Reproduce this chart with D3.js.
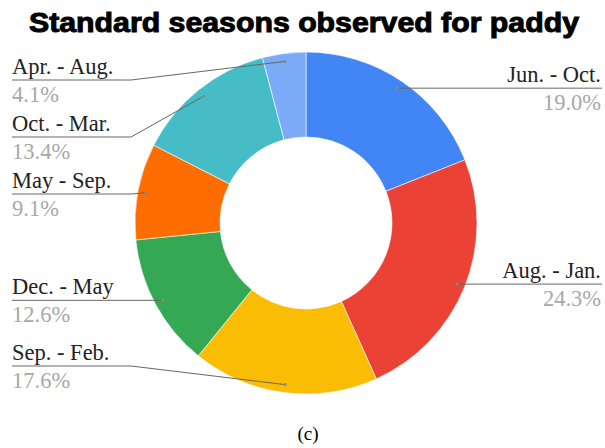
<!DOCTYPE html>
<html><head><meta charset="utf-8">
<script src="https://cdn.jsdelivr.net/npm/d3@7"></script>
<style>html,body{margin:0;padding:0;background:#fff;}svg{display:block;}</style>
</head><body>
<svg id="c" width="605" height="448"></svg>
<script>
const categories = ["Jun. - Oct.", "Aug. - Jan.", "Sep. - Feb.", "Dec. - May", "May - Sep.", "Oct. - Mar.", "Apr. - Aug."];
const values = [19.0, 24.3, 17.6, 12.6, 9.1, 13.4, 4.1];
const colors = ["#4285F4", "#EA4335", "#FBBC04", "#34A853", "#FF6D01", "#46BDC6", "#7BAAF7"];
const title = "Standard seasons observed for paddy";
const caption = "(c)";

const svg = d3.select("#c");
const cx = 306, cy = 223, R = 171, r0 = 86;

svg.append("text").attr("x", 304).attr("y", 32).attr("text-anchor", "middle")
  .attr("font-family", "Liberation Sans, Arial, sans-serif").attr("font-weight", "bold")
  .attr("font-size", 28).attr("fill", "#000").attr("stroke", "#000").attr("stroke-width", 1)
  .attr("textLength", 550).attr("lengthAdjust", "spacingAndGlyphs")
  .text(title);

const pie = d3.pie().sort(null).value(d => d)(values);
const arc = d3.arc().innerRadius(r0).outerRadius(R);
const g = svg.append("g").attr("transform", `translate(${cx},${cy})`);
g.selectAll("path").data(pie).join("path")
  .attr("d", arc).attr("fill", (d, i) => colors[i]).attr("stroke", "#fff").attr("stroke-width", 0.6);

// label layout
const rp = R * 0.953;
const items = pie.map((d, i) => {
  const a = (d.startAngle + d.endAngle) / 2;
  return { i, a, px: cx + rp * Math.sin(a), py: cy - rp * Math.cos(a), right: a < Math.PI };
});
const minY = 80, maxY = 366, gap = 57;
["left", "right"].forEach(side => {
  const arr = items.filter(d => (side === "right") === d.right).sort((a, b) => a.py - b.py);
  arr.forEach(d => d.ly = Math.max(minY, Math.min(maxY, d.py)));
  for (let k = 1; k < arr.length; k++) if (arr[k].ly < arr[k - 1].ly + gap) arr[k].ly = arr[k - 1].ly + gap;
});
const fmt = d3.format(".1f");
const lg = svg.append("g");
const serif = "Liberation Serif, Times New Roman, serif";
items.forEach(d => {
  const xEdge = d.right ? 602 : 12;
  const xElbow = d.right ? 481 : 131;
  let pts;
  if (Math.abs(d.ly - d.py) < 0.5) pts = [[xEdge, d.ly], [d.px, d.py]];
  else pts = [[xEdge, d.ly], [xElbow, d.ly], [d.px, d.py]];
  lg.append("path").attr("d", d3.line()(pts)).attr("fill", "none").attr("stroke", "#666").attr("stroke-width", 1);
  lg.append("circle").attr("cx", d.px).attr("cy", d.py).attr("r", 1.5).attr("fill", "#888");
  const tx = d.right ? 601 : 12, anchor = d.right ? "end" : "start";
  lg.append("text").attr("x", tx).attr("y", d.ly - 6).attr("text-anchor", anchor)
    .attr("font-family", serif).attr("font-size", 22.5).attr("fill", "#222")
    .text(categories[d.i]);
  lg.append("text").attr("x", tx).attr("y", d.ly + 22).attr("text-anchor", anchor)
    .attr("font-family", serif).attr("font-size", 22.5).attr("fill", "#a8a8a8")
    .text(fmt(values[d.i]) + "%");
});

svg.append("text").attr("x", 308).attr("y", 440).attr("text-anchor", "middle")
  .attr("font-family", serif).attr("font-size", 19).attr("fill", "#000")
  .text(caption);
</script>
</body></html>
